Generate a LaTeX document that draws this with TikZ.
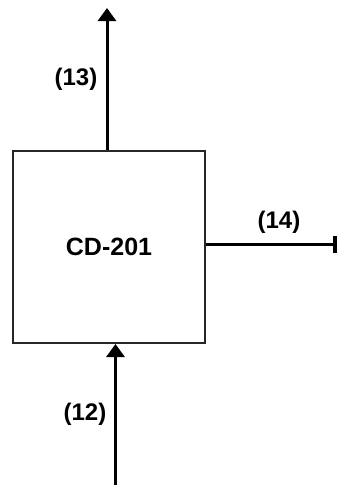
\documentclass[tikz,border=0pt]{standalone}
\usepackage{fontspec}
\setmainfont{Liberation Sans}
\usetikzlibrary{arrows.meta}
\begin{document}
\begin{tikzpicture}[x=1pt,y=-1pt,
  unit/.style={draw=black!85, line width=2pt, minimum width=192pt, minimum height=192pt, inner sep=0pt, font=\bfseries\fontsize{25}{28}\selectfont},
  stream/.style={line width=3pt, -{Triangle[length=13pt,width=18pt]}},
  lbl/.style={font=\bfseries\fontsize{24}{27}\selectfont, inner sep=0pt}]
\useasboundingbox (0,0) rectangle (339,485);
\node[unit] (cd) at (109,247) {CD-201};
\coordinate (top) at (107,8);
\coordinate (bot) at (115.5,485);
\coordinate (rgt) at (337,244);
\draw[stream] (cd.north -| top) -- (top);
\draw[stream] (bot) -- (bot |- cd.south);
\draw[line width=3pt, -{Bar[width=17pt,line width=4pt]}] (cd.east |- rgt) -- (rgt);
\node[lbl] (l13) at (76,79) {(13)};
\node[lbl] (l14) at (279,222) {(14)};
\node[lbl] (l12) at (85,414) {(12)};
\end{tikzpicture}
\end{document}
